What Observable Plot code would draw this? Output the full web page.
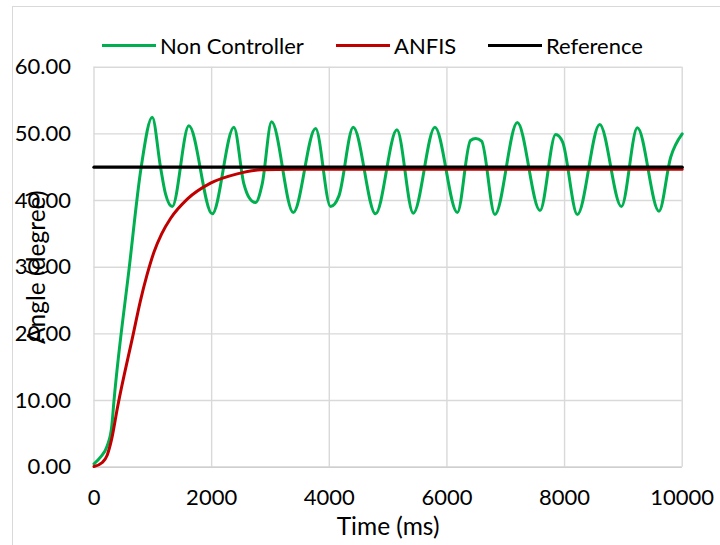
<!DOCTYPE html>
<html>
<head>
<meta charset="utf-8">
<script src="https://cdn.jsdelivr.net/npm/d3@7"></script>
<script src="https://cdn.jsdelivr.net/npm/@observablehq/plot@0.6"></script>
<style>
  body { margin: 0; background: #fff; }
  #wrap { position: relative; width: 720px; height: 545px; overflow: hidden; background: #fff; font-family: Lato, "Open Sans", sans-serif; }
  #frame { position: absolute; left: 12px; top: 6px; width: 900px; height: 800px; border: 1.5px solid #d9d9d9; pointer-events: none; }
  .item { position: absolute; top: 30px; height: 30px; display: flex; align-items: center; font-size: 22px; color: #000; white-space: nowrap; }
  .sw { display: inline-block; width: 54px; height: 3px; margin-right: 4px; }
</style>
</head>
<body>
<div id="wrap">
  <div id="chart"></div>
  <div id="legend"></div>
  <div id="frame"></div>
</div>
<script>
// ---- data ----
const seriesNames = ["Non Controller", "ANFIS", "Reference"];
const seriesColors = ["#00b050", "#c00000", "#000000"];

const greenT = [0, 110, 224, 300, 340, 600, 802, 990, 1131, 1216, 1330, 1613, 2010, 2378, 2548, 2633, 2747, 2860, 3019, 3388, 3767, 4022, 4164, 4408, 4787, 5150, 5428, 5796, 6177, 6400, 6488, 6590, 6816, 7197, 7582, 7849, 7966, 8218, 8597, 8966, 9238, 9605, 9804, 10000];
const greenV = [0.5, 1.5, 3.2, 6, 10, 30, 45, 52.5, 45, 41, 39.1, 51.2, 38.0, 51.0, 42.5, 40.5, 39.7, 42.5, 51.8, 38.2, 50.8, 39.1, 40.7, 51.0, 38.0, 50.6, 38.1, 51.0, 38.2, 49.0, 49.3, 48.9, 37.9, 51.7, 38.5, 49.9, 48.8, 37.9, 51.4, 39.1, 50.9, 38.4, 46.5, 50.0];

const redT = [0, 140, 224, 300, 400, 668, 790, 900, 1017, 1150, 1301, 1585, 1981, 2435, 2832, 3400, 10000];
const redV = [0.1, 0.7, 1.8, 4.2, 9, 20, 25, 28.8, 32.2, 35, 37.3, 40.2, 42.6, 44, 44.6, 44.7, 44.7];

const refT = [0, 10000];
const refV = [45, 45];

const xTicks = [0, 2000, 4000, 6000, 8000, 10000];
const yTicks = [0, 10, 20, 30, 40, 50, 60];
const xTitle = "Time (ms)";
const yTitle = "Angle (degree)";

// ---- build tables ----
const green = greenT.map((t, i) => ({t, v: greenV[i]}));
const red = redT.map((t, i) => ({t, v: redV[i]}));
const ref = refT.map((t, i) => ({t, v: refV[i]}));

const chart = Plot.plot({
  width: 720,
  height: 545,
  marginLeft: 93.5,
  marginRight: 38.3,
  marginTop: 66.7,
  marginBottom: 78.3,
  style: { fontFamily: "Lato, 'Open Sans', sans-serif", fontSize: "22px", color: "#000", background: "transparent", overflow: "visible" },
  x: { domain: [0, 10000], ticks: xTicks, tickSize: 0, tickPadding: 22, label: null, tickFormat: d3.format("d") },
  y: { domain: [0, 60], ticks: yTicks, tickSize: 0, tickPadding: 23, label: null, tickFormat: d3.format(".2f") },
  marks: [
    Plot.gridX(xTicks, { stroke: "#d9d9d9", strokeOpacity: 1, strokeWidth: 1.4 }),
    Plot.gridY(yTicks, { stroke: "#d9d9d9", strokeOpacity: 1, strokeWidth: 1.4 }),
    Plot.ruleY([0], { stroke: "#cfcfcf", strokeWidth: 1.5 }),
    Plot.line(green, { x: "t", y: "v", stroke: seriesColors[0], strokeWidth: 3, curve: "monotone-x" }),
    Plot.line(red, { x: "t", y: "v", stroke: seriesColors[1], strokeWidth: 3, curve: "monotone-x" }),
    Plot.line(ref, { x: "t", y: "v", stroke: seriesColors[2], strokeWidth: 3.3 }),
    Plot.text([xTitle], { text: d => d, frameAnchor: "bottom", textAnchor: "middle", lineAnchor: "middle", dy: 60, fontSize: 24.5, fill: "#000" }),
    Plot.text([yTitle], { text: d => d, frameAnchor: "left", textAnchor: "middle", lineAnchor: "middle", dx: -57, rotate: -90, fontSize: 24.5, fill: "#000" })
  ]
});
document.getElementById("chart").appendChild(chart);

// ---- legend ----
const legendLeft = [102, 336, 488];
const legend = document.getElementById("legend");
seriesNames.forEach((name, i) => {
  const item = document.createElement("div");
  item.className = "item";
  item.style.left = legendLeft[i] + "px";
  const sw = document.createElement("span");
  sw.className = "sw";
  sw.style.background = seriesColors[i];
  const tx = document.createElement("span");
  tx.textContent = name;
  item.appendChild(sw);
  item.appendChild(tx);
  legend.appendChild(item);
});
</script>
</body>
</html>
